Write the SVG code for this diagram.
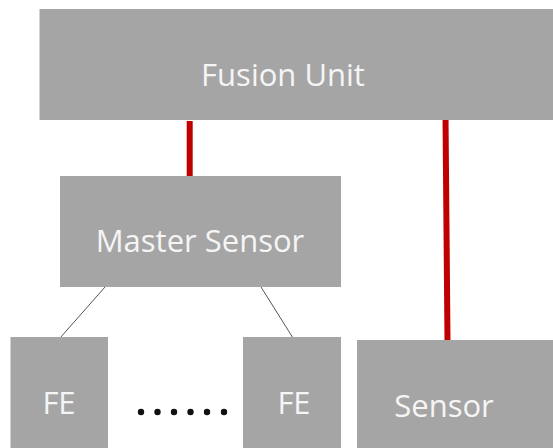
<svg xmlns="http://www.w3.org/2000/svg" width="553" height="448" viewBox="0 0 553 448">
<style>
.box{fill:#a5a5a5}
.lbl{font-family:"Open Sans","Liberation Sans",sans-serif;fill:#f5f5f5;text-anchor:middle}
.red{stroke:#c00000;stroke-width:6;fill:none}
.thin{stroke:#555;stroke-width:1;fill:none}
</style>
<rect width="553" height="448" fill="#fff"/>
<g id="connectors">
<line class="red" x1="189.7" y1="121" x2="189.7" y2="176"/>
<line class="red" x1="445.5" y1="116" x2="447.5" y2="341"/>
<line class="thin" x1="105" y1="287" x2="60" y2="338"/>
<line class="thin" x1="261" y1="287" x2="293" y2="338"/>
</g>
<g id="fusion-unit">
<rect class="box" x="39.5" y="9" width="514" height="111"/>
<text class="lbl" x="283" y="86" font-size="31">Fusion Unit</text>
</g>
<g id="master-sensor">
<rect class="box" x="60" y="176" width="281" height="111"/>
<text class="lbl" x="200" y="252" font-size="31">Master Sensor</text>
</g>
<g id="fe1">
<rect class="box" x="10.5" y="337" width="97.5" height="111"/>
<text class="lbl" x="59" y="414" font-size="31">FE</text>
</g>
<g id="fe2">
<rect class="box" x="243" y="337" width="98" height="111"/>
<text class="lbl" x="294" y="414" font-size="31">FE</text>
</g>
<g id="sensor">
<rect class="box" x="357" y="340" width="196" height="108"/>
<text class="lbl" x="444" y="417" font-size="31">Sensor</text>
</g>
<g id="dots" fill="#111">
<circle cx="141" cy="412" r="3.2"/>
<circle cx="157.5" cy="412" r="3.2"/>
<circle cx="174" cy="412" r="3.2"/>
<circle cx="190.5" cy="412" r="3.2"/>
<circle cx="207" cy="412" r="3.2"/>
<circle cx="224" cy="412" r="3.2"/>
</g>
</svg>
